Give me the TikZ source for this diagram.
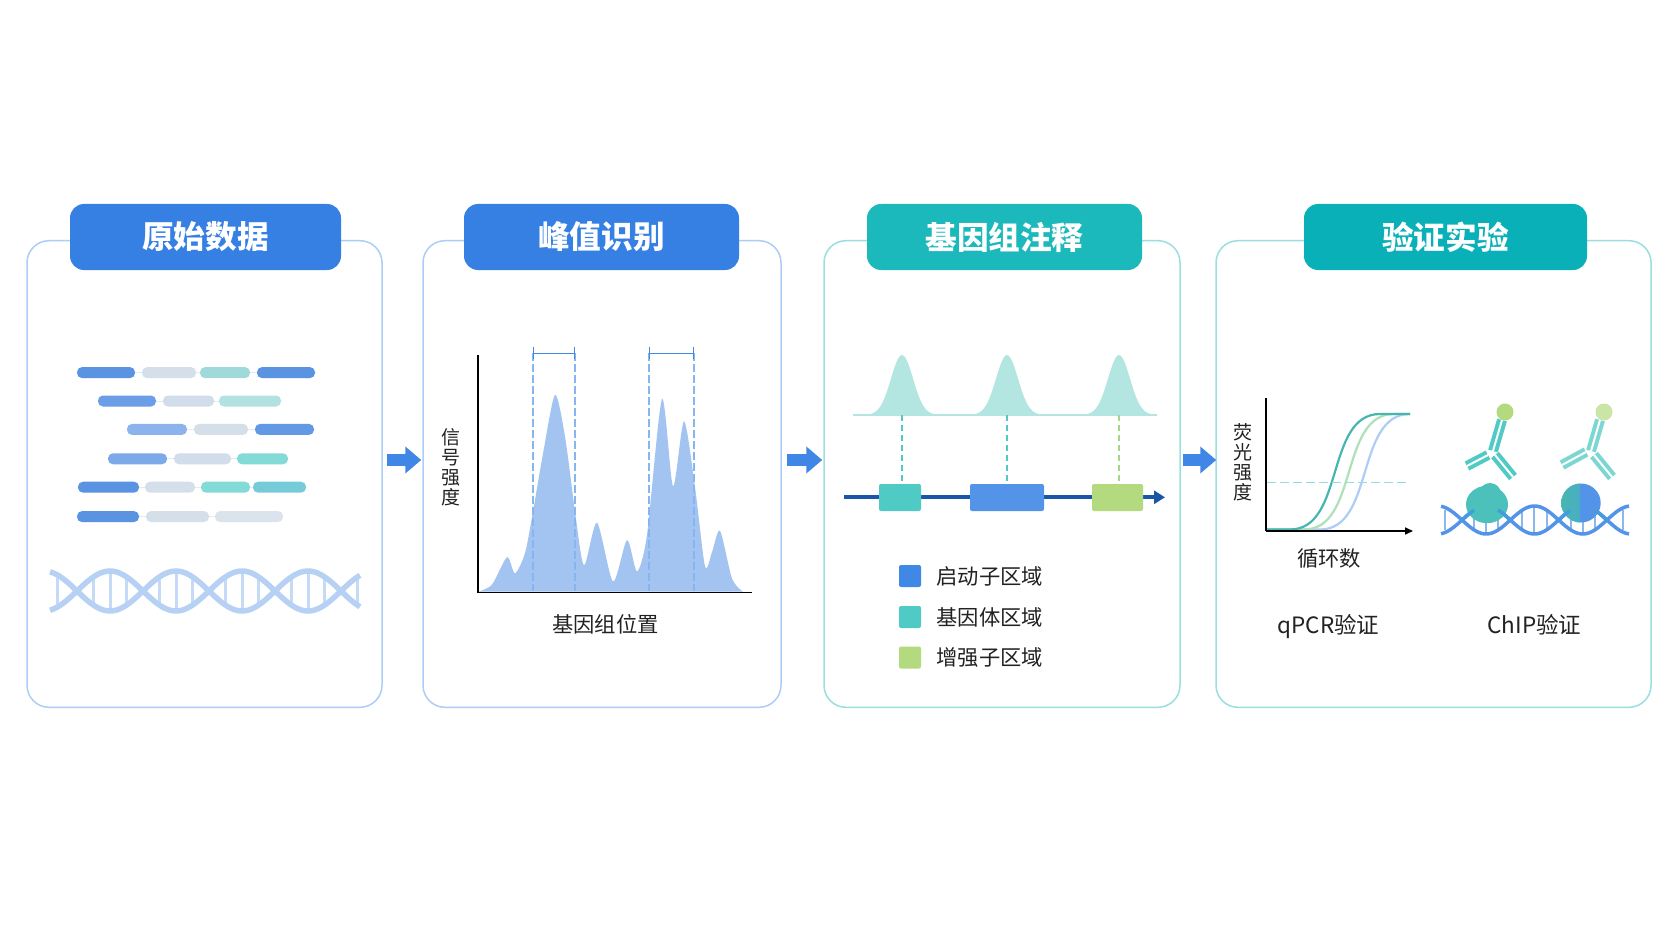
\documentclass[tikz,border=0pt]{standalone}
\usepackage{fontspec}
\setmainfont{Noto Sans CJK SC}
\usepackage{tikz}
\usetikzlibrary{calc,positioning}
\usetikzlibrary{arrows.meta}
\tikzset{>={Triangle[length=4pt,width=4pt]}}

\definecolor{titleblue}{HTML}{3580E2}
\definecolor{titleteal}{HTML}{1BB8BC}
\definecolor{titlecyan}{HTML}{0AB0B8}
\definecolor{cardblue}{HTML}{ADCDF6}
\definecolor{cardteal}{HTML}{9ADFE0}
\definecolor{flowblue}{HTML}{3F86E6}
\definecolor{barblue}{HTML}{5B93E3}
\definecolor{bargrey}{HTML}{D5DFEA}
\definecolor{barteal}{HTML}{9FD9D9}
\definecolor{helixblue}{HTML}{B6D1F4}
\definecolor{peakblue}{HTML}{A3C4F0}
\definecolor{dashblue}{HTML}{85B6F2}
\definecolor{peakteal}{HTML}{B3E5E1}
\definecolor{geneblue}{HTML}{1A56A8}
\definecolor{promoter}{HTML}{4088E6}
\definecolor{genebody}{HTML}{50CAC4}
\definecolor{enhancer}{HTML}{B3DA7F}
\definecolor{labelgrey}{HTML}{222222}

% strands and rungs of a helix, #3 is the first crossing
\newcommand{\dnastrands}[7]{%
  \draw[#7] plot[smooth,samples=90,domain=#1:#2] (\x,{#4+#5*sin((\x-#3)/#6*180)});
  \draw[#7] plot[smooth,samples=90,domain=#1:#2] (\x,{#4-#5*sin((\x-#3)/#6*180)});
}
\newcommand{\dnarungs}[6]{%
  \foreach \k in {0,...,#2}
    \foreach \f/\s in {0.25/0.7,0.5/1,0.75/0.7}
      \draw[#6] ({#1+(\k+\f)*#5},{#3-\s*#4}) -- ({#1+(\k+\f)*#5},{#3+\s*#4});
}

\begin{document}
\begin{tikzpicture}[x=1pt,y=-1pt]
  \tikzstyle{cardnode} = [rectangle, fill=white, line width=1.5pt, rounded corners=22pt, minimum height=466.6pt, inner sep=0pt]
  \tikzstyle{titlenode} = [rectangle, rounded corners=14pt, minimum height=66pt, inner sep=0pt, text=white, font=\fontsize{31.6}{31.6}\selectfont\bfseries]
  \tikzstyle{rnode} = [inner sep=0pt, text=labelgrey, font=\fontsize{21.3}{21.3}\selectfont]
  \tikzstyle{vnode} = [inner sep=0pt, text=labelgrey, align=center, font=\fontsize{19}{20}\selectfont]
  \tikzstyle{readbar} = [rectangle, rounded corners=5pt, minimum height=11pt, inner sep=0pt]
  \tikzstyle{readlink} = [line width=0.8pt, draw=bargrey!70!white]
  \tikzstyle{flowarrow} = [line width=12pt, draw=flowblue, -{Triangle[length=16pt,width=26pt]}]
  \tikzstyle{genebox} = [rectangle, rounded corners=2pt, minimum height=27pt, inner sep=0pt]
  \tikzstyle{legbox} = [rectangle, rounded corners=2pt, minimum size=22pt, inner sep=0pt]
  \tikzstyle{axisline} = [line width=1.6pt, draw=black]
  \tikzstyle{gapdash} = [line width=1.2pt, draw=dashblue, dashed, dash pattern=on 8pt off 3pt]
  \tikzstyle{gapbar} = [line width=1.4pt, draw=promoter, {Bar[width=12pt]}-{Bar[width=12pt]}]
  \tikzstyle{linkdash} = [line width=1.5pt, dashed, dash pattern=on 6pt off 4pt]
  \tikzstyle{antibody} = [line width=4pt, double=white, double distance=2pt]

  \useasboundingbox (0,0) rectangle (1672,941);
  \fill[white] (0,0) rectangle (1672,941);

  % cards and titles
  \node[cardnode, draw=cardblue, minimum width=355pt] (card1) at (204.5,474) {};
  \node[cardnode, draw=cardblue, minimum width=358pt] (card2) at (602,474) {};
  \node[cardnode, draw=cardteal, minimum width=356pt] (card3) at (1002,474) {};
  \node[cardnode, draw=cardteal, minimum width=435pt] (card4) at (1433.5,474) {};
  \node[titlenode, fill=titleblue, minimum width=271pt] (title1) at (205.5,237) {原始数据};
  \node[titlenode, fill=titleblue, minimum width=275pt] (title2) at (601.5,237) {峰值识别};
  \node[titlenode, fill=titleteal, minimum width=275pt] (title3) at (1004.5,237) {基因组注释};
  \node[titlenode, fill=titlecyan, minimum width=283pt] (title4) at (1445.5,237) {验证实验};

  \draw[flowarrow] ([shift={(4,-14)}]card1.east) -- ([shift={(-1,-14)}]card2.west);
  \draw[flowarrow] ([shift={(5,-14)}]card2.east) -- ([shift={(-1,-14)}]card3.west);
  \draw[flowarrow] ([shift={(2,-14)}]card3.east) -- ([shift={(1,-14)}]card4.west);

  % reads
  \foreach \nm/\xa/\xb/\yy/\col in {
      r1a/77/135/372.6/barblue, r1b/142/196/372.6/bargrey, r1c/200/250/372.6/barteal, r1d/257/315/372.6/barblue,
      r2a/98/156/401/barblue!90!white, r2b/163/214/401/bargrey!90!cardblue, r2c/219/281/401/barteal!80!white,
      r3a/127/187/429.4/barblue!70!white, r3b/194/248/429.4/bargrey, r3c/255/314/429.4/barblue!95!white,
      r4a/108/167/458.8/barblue!80!white, r4b/174/231/458.8/bargrey!90!cardblue, r4c/237/288/458.8/genebody!70!white,
      r5a/78/139/487.2/barblue, r5b/145/195/487.2/bargrey, r5c/201/250/487.2/genebody!70!white, r5d/253/306/487.2/genebody!60!cardblue,
      r6a/77/139/516.6/barblue, r6b/146/209/516.6/bargrey, r6c/215/283/516.6/bargrey!85!white}
    \node[readbar, fill=\col, minimum width={(\xb-\xa)*1pt}] (\nm) at ({(\xa+\xb)/2},\yy) {};
  \foreach \from/\to in {r1a/r1b,r1b/r1c,r1c/r1d,r2a/r2b,r2b/r2c,r3a/r3b,r3b/r3c,r4a/r4b,r4b/r4c,r5a/r5b,r5b/r5c,r5c/r5d,r6a/r6b,r6b/r6c}
    \draw[readlink] (\from) -- (\to);

  % helix under the reads
  \dnarungs{77}{3}{591}{19}{66}{line width=3pt, draw=helixblue!80!white}
  \draw[line width=3pt, draw=helixblue!80!white] (57,578) -- (57,604);
  \draw[line width=3pt, draw=helixblue!80!white] (357,578) -- (357,604);
  \dnastrands{50}{360}{77}{591}{20}{66}{line width=5.5pt, draw=helixblue}

  % peak calling
  \coordinate (sigO) at (478,592.5);
  \coordinate (sigY) at (478,355);
  \coordinate (sigX) at (752,592.5);
  \fill[peakblue] plot[smooth,tension=0.45] coordinates {(478,591.7) (492,584.6) (507,557.2) (515,573.4) (525,553.1) (533,511.5) (543,453.7) (555,394.9) (565,436.5) (575,511.5) (584,565.3) (597,522.7) (613,581.5) (627,540) (637,571.4) (647,534.9) (662,399) (673,486.2) (684,421.3) (695,487.2) (705,566.3) (712,552.1) (720,530.8) (732,578.5) (743,591.7)} -- cycle;
  \foreach \nm/\xx in {gapA/533,gapB/575,gapC/649,gapD/694}{
    \coordinate (\nm) at (\xx,353.3);
    \coordinate (\nm low) at (\xx,591);
    \draw[gapdash] (\nm) -- (\nm low);
  }
  \draw[gapbar] (gapA) -- (gapB);
  \draw[gapbar] (gapC) -- (gapD);
  \draw[axisline] (sigY) -- (sigO) -- (sigX);
  \node[vnode] (sigy) at (451,467) {信\\号\\强\\度};
  \node[rnode] (sigx) at (605.5,624) {基因组位置};

  % annotation
  \draw[line width=1.5pt, draw=peakteal] (853,415) -- (1157,415);
  \foreach \nm/\c in {peakA/902,peakB/1007,peakC/1119}{
    \fill[peakteal] plot[smooth,samples=45,domain=-40:40] ({\c+\x},{415-60*exp(-0.5*(\x/11)^2)}) -- cycle;
    \coordinate (\nm) at (\c,415);
  }
  \coordinate (geneL) at (844,497.3);
  \coordinate (geneR) at (1165,497.3);
  \draw[line width=4pt, draw=geneblue, -{Triangle[length=11pt,width=13pt]}] (geneL) -- (geneR);
  \node[genebox, fill=genebody, minimum width=42pt] (geneA) at (900,497.5) {};
  \node[genebox, fill=promoter!90!white, minimum width=74pt] (geneB) at (1007,497.5) {};
  \node[genebox, fill=enhancer, minimum width=51pt] (geneC) at (1117.5,497.5) {};
  \draw[linkdash, draw=genebody] (peakA) -- (peakA |- geneA.north);
  \draw[linkdash, draw=genebody] (peakB) -- (peakB |- geneB.north);
  \draw[linkdash, draw=enhancer!85!genebody] (peakC) -- (peakC |- geneC.north);

  \node[legbox, fill=promoter] (legA) at (910,576) {};
  \node[legbox, fill=genebody] (legB) at (910,617) {};
  \node[legbox, fill=enhancer] (legC) at (910,657.5) {};
  \node[rnode, right = 15pt of legA] (txtA) {启动子区域};
  \node[rnode, right = 15pt of legB] (txtB) {基因体区域};
  \node[rnode, right = 15pt of legC] (txtC) {增强子区域};

  % qPCR curves
  \coordinate (pcrO) at (1266,531);
  \coordinate (pcrY) at (1266,398);
  \coordinate (pcrX) at (1413,531);
  \foreach \dx/\col in {30/cardblue,14/enhancer!60!genebody!70!white,0/genebody!90!black}
    \draw[line width=2.2pt, draw=\col] (1267,529.5) -- ({1290+\dx},529.5) .. controls ({1345+\dx},529.5) and ({1325+\dx},414) .. ({1380+\dx},414) -- (1410,414);
  \draw[line width=1pt, draw=cardteal!90!genebody, dashed, dash pattern=on 9pt off 4pt] (1267,482) -- (1410,482);
  \draw[axisline] (pcrY) -- (pcrO);
  \draw[axisline, -{Triangle[length=8pt,width=7pt]}] (pcrO) -- (pcrX);
  \node[vnode] (pcry) at (1243,462.5) {荧\\光\\强\\度};
  \node[rnode] (pcrx) at (1329,558) {循环数};
  \node[rnode, anchor=base, font=\fontsize{22.5}{22.5}\selectfont] (qpcr) at (1328.5,633) {qPCR验证};
  \node[rnode, anchor=base, font=\fontsize{22.5}{22.5}\selectfont] (chip) at (1534.5,633) {ChIP验证};

  % ChIP
  \dnarungs{1462}{2}{520}{13}{48.3}{line width=2pt, draw=promoter!60!white}
  \draw[line width=2pt, draw=promoter!60!white] (1445,510) -- (1445,530);
  \draw[line width=2pt, draw=promoter!60!white] (1623,510) -- (1623,530);
  \dnastrands{1441}{1629}{1462}{520}{14}{48.3}{line width=3.5pt, draw=promoter!90!white}
  \fill[genebody!95!black] (1487,504.5) ellipse [x radius=21pt, y radius=18.7pt];
  \fill[genebody!95!black] (1490,494) circle [radius=11pt];
  \fill[promoter!90!white] (1581,503) ellipse [x radius=19.7pt, y radius=19.5pt];
  \begin{scope}
    \clip (1555,478) rectangle (1580,530);
    \shade[left color=genebody!90!black, right color=genebody!45!promoter] (1581,503) ellipse [x radius=19.7pt, y radius=19.5pt];
  \end{scope}
  \foreach \a/\b in {1462/1474,1498/1510,1558/1570,1595/1607}
    \draw[line width=3.5pt, draw=promoter!70!genebody] plot[smooth,samples=12,domain=\a:\b] (\x,{520-14*sin((\x-1462)/48.3*180)});

  \draw[antibody, draw=genebody] (1493,451) -- (1502,420);
  \draw[antibody, draw=genebody] (1488,455) -- (1467,466);
  \draw[antibody, draw=genebody] (1495,455) -- (1513,477);
  \fill[enhancer] (1505,412) circle [radius=8.5pt];
  \draw[antibody, draw=genebody!75!white] (1591,451) -- (1600,420);
  \draw[antibody, draw=genebody!75!white] (1586,452) -- (1562,465);
  \draw[antibody, draw=genebody!75!white] (1594,455) -- (1612,477);
  \fill[enhancer!70!white] (1604,412) circle [radius=8.5pt];
\end{tikzpicture}
\end{document}
